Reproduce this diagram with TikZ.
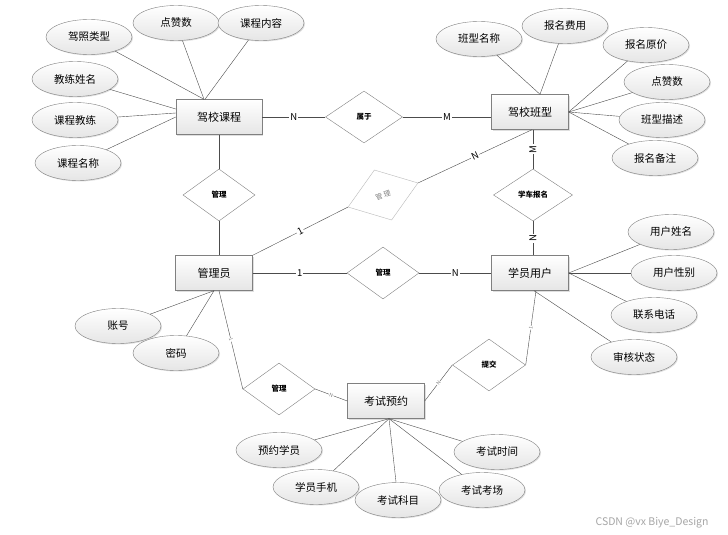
\documentclass[tikz,border=0pt]{standalone}
\usepackage{fontspec}
\setmainfont{Noto Sans CJK SC}
\usepackage{tikz}
\usetikzlibrary{shapes.geometric,shadows}

\begin{document}
\begin{tikzpicture}[x=1pt,y=-1pt,
		boxshadow/.style={drop shadow={shadow xshift=1pt,shadow yshift=-1pt,opacity=0.25}},
		entity/.style={draw=gray,rectangle,top color=white,bottom color=gray!20,minimum width=77pt,minimum height=35pt,inner sep=0pt,font=\fontsize{11}{13}\selectfont,boxshadow},
		attr/.style={draw=gray,ellipse,top color=white,bottom color=gray!20,minimum width=86pt,minimum height=35pt,inner sep=0pt,font=\fontsize{10.5}{12}\selectfont,boxshadow},
		rel/.style={draw=gray,diamond,fill=white,minimum width=72pt,minimum height=52pt,inner sep=0pt,font=\fontsize{7.5}{8}\selectfont\bfseries},
		card/.style={fill=white,inner sep=1pt,font=\fontsize{9.5}{10}\selectfont},
		tinycard/.style={fill=white,inner sep=0.5pt,text=gray,font=\fontsize{5}{5}\selectfont},
		link/.style={draw=black!70}]
		\fill[white] (0,0) rectangle (728,535);
		\useasboundingbox (0,0) rectangle (728,535);
		\node[entity,minimum width=86pt] (jxkc) at (219,117) {驾校课程};
		\node[entity] (jxbx) at (530,112) {驾校班型};
		\node[entity] (gly) at (214,273) {管理员};
		\node[entity] (xyyh) at (530,273) {学员用户};
		\node[entity] (kswy) at (386,401) {考试预约};
		\node[rel,minimum width=77pt] (sy) at (364,117) {属于};
		\node[rel] (gl1) at (219,195) {管理};
		\node[rel,minimum width=74pt,minimum height=53pt,draw=gray!55,text=gray,font=\fontsize{7}{8}\selectfont,rotate=19] (gl2) at (383,195) {管\hspace{1.5pt}理};
		\node[rel,minimum width=79pt] (xcbm) at (533,195) {学车报名};
		\node[rel] (gl3) at (383,273) {管理};
		\node[rel] (gl4) at (279,389) {管理};
		\node[rel,minimum width=73pt] (tj) at (489,365) {提交};
		\node[attr] (jzlx) at (89,37) {驾照类型};
		\node[attr] (dzs1) at (176,23) {点赞数};
		\node[attr] (kcnr) at (261,23) {课程内容};
		\node[attr] (jlxm) at (75,79) {教练姓名};
		\node[attr] (kcjl) at (75,120) {课程教练};
		\node[attr] (kcmc) at (78,163) {课程名称};
		\node[attr] (bxmc) at (479,39) {班型名称};
		\node[attr] (bmfy) at (565,26) {报名费用};
		\node[attr] (bmyj) at (646,45) {报名原价};
		\node[attr] (dzs2) at (667,82) {点赞数};
		\node[attr] (bxms) at (662,120) {班型描述};
		\node[attr] (bmbz) at (655,158) {报名备注};
		\node[attr] (yhxm) at (671,232) {用户姓名};
		\node[attr] (yhxb) at (674,273) {用户性别};
		\node[attr] (lxdh) at (654,315) {联系电话};
		\node[attr] (shzt) at (634,357) {审核状态};
		\node[attr] (zh) at (118,326) {账号};
		\node[attr] (mm) at (176,353) {密码};
		\node[attr] (yyxy) at (279,450) {预约学员};
		\node[attr] (xysj) at (316,487) {学员手机};
		\node[attr] (kskm) at (398,500) {考试科目};
		\node[attr] (kskc) at (482,490) {考试考场};
		\node[attr] (kssj) at (497,452) {考试时间};
		\draw[link] (jzlx) -- ([xshift=-15pt]jxkc.north);
		\draw[link] (dzs1) -- ([xshift=-15pt]jxkc.north);
		\draw[link] (kcnr) -- ([xshift=-14pt]jxkc.north);
		\draw[link] (jlxm) -- ([yshift=8pt]jxkc.west);
		\draw[link] (kcjl) -- ([yshift=4pt]jxkc.west);
		\draw[link] (kcmc) -- (jxkc.west);
		\draw[link] (bxmc) -- ([xshift=10pt]jxbx.north);
		\draw[link] (bmfy) -- ([xshift=10pt]jxbx.north);
		\draw[link] (bmyj) -- (jxbx.east);
		\draw[link] (dzs2) -- (jxbx.east);
		\draw[link] (bxms) -- (jxbx.east);
		\draw[link] (bmbz) -- (jxbx.east);
		\draw[link] (yhxm) -- (xyyh.east);
		\draw[link] (yhxb) -- (xyyh.east);
		\draw[link] (lxdh) -- (xyyh.east);
		\draw[link] (shzt) -- ([xshift=4pt]xyyh.south);
		\draw[link] (zh) -- (gly.south);
		\draw[link] (mm) -- (gly.south);
		\draw[link] (yyxy) -- ([xshift=3pt]kswy.south);
		\draw[link] (xysj) -- ([xshift=3pt]kswy.south);
		\draw[link] (kskm) -- ([xshift=3pt]kswy.south);
		\draw[link] (kskc) -- ([xshift=3pt]kswy.south);
		\draw[link] (kssj) -- ([xshift=3pt]kswy.south);
		\draw[link] (jxkc) -- node[card] {N} (sy);
		\draw[link] (sy.east) -- node[card] {M} (sy.east -| jxbx.west);
		\draw[link] (jxkc.south -| gl1.north) -- (gl1.north);
		\draw[link] (gl1.south) -- (gl1.south |- gly.north);
		\draw[link] (gly.north east) -- node[card,sloped] {1} (gl2.west);
		\draw[link] (gl2.east) -- node[card,sloped] {N} ([xshift=2pt]jxbx.south);
		\draw[link] (xcbm.north |- jxbx.south) -- node[card,rotate=90] {M} (xcbm.north);
		\draw[link] (xcbm.south) -- node[card,rotate=90] {N} (xcbm.south |- xyyh.north);
		\draw[link] (gly) -- node[card] {1} (gl3);
		\draw[link] (gl3) -- node[card] {N} (xyyh);
		\draw[link] ([xshift=5pt]gly.south) -- node[tinycard,sloped] {1} (gl4.west);
		\draw[link] (gl4.east) -- node[tinycard,sloped] {N} (kswy.west);
		\draw[link] ([xshift=6pt]xyyh.south) -- node[tinycard,sloped] {1} (tj.east);
		\draw[link] (tj.west) -- node[tinycard,sloped] {N} (kswy.east);
		\node[anchor=east,text=gray!70,font=\fontsize{10.5}{12}\selectfont] (wm) at (712,523) {CSDN @vx Biye\_Design};
\end{tikzpicture}
\end{document}
